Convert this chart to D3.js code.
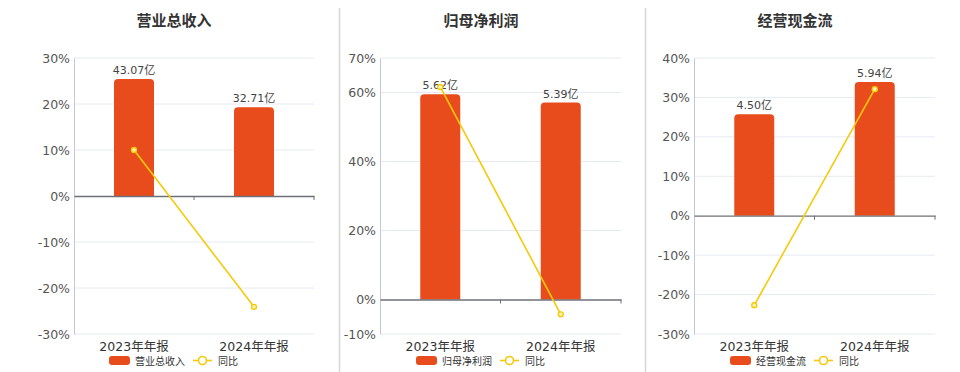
<!DOCTYPE html>
<html lang="zh">
<head>
<meta charset="UTF-8">
<title>营业总收入 / 归母净利润 / 经营现金流</title>
<script src="https://d3js.org/d3.v7.min.js"></script>
<style>
  body { margin: 0; background: #fff; }
  svg { display: block; font-family: "DejaVu Sans", "Noto Sans CJK SC", sans-serif; }
</style>
</head>
<body>
<svg width="960" height="372"></svg>
<script>
// data
var categories = ["2023年年报", "2024年年报"];
var titles = ["营业总收入", "归母净利润", "经营现金流"];
var revenue = [43.07, 32.71];        // 亿
var netProfit = [5.62, 5.39];        // 亿
var cashFlow = [4.50, 5.94];         // 亿
var revenueYoy = [10.0, -24.1];      // %
var netProfitYoy = [61.6, -4.3];     // %
var cashFlowYoy = [-22.7, 32.1];     // %
var revenueTicks = [-30, -20, -10, 0, 10, 20, 30];
var netProfitTicks = [-10, 0, 20, 40, 60, 70];
var cashFlowTicks = [-30, -20, -10, 0, 10, 20, 30, 40];
// hidden right axis maximum for the bars (estimated)
var barAxisMax = [50.8, 6.61, 7];

var barColor = "#e84c1d", lineColor = "#f5ca0c";
var svg = d3.select("svg");

var panels = [
    {title: titles[0], bars: revenue, yoy: revenueYoy, ticks: revenueTicks, left: 74, right: 314, cx: 174},
    {title: titles[1], bars: netProfit, yoy: netProfitYoy, ticks: netProfitTicks, left: 380, right: 621, cx: 481},
    {title: titles[2], bars: cashFlow, yoy: cashFlowYoy, ticks: cashFlowTicks, left: 694, right: 935, cx: 795}
];
var plotTop = 58, plotBottom = 334;

// dividers
[339.5, 645.5].forEach(function(x) {
    svg.append("line").attr("x1", x).attr("x2", x).attr("y1", 8).attr("y2", 372)
        .attr("stroke", "#d6d6d6").attr("stroke-width", 1.5);
});

panels.forEach(function(p, pi) {
    var g = svg.append("g");
    var x = d3.scaleBand().domain(categories).range([p.left, p.right]);
    var y = d3.scaleLinear().domain(d3.extent(p.ticks)).range([plotBottom, plotTop]);
    var yBar = d3.scaleLinear().domain([0, barAxisMax[pi]]).range([y(0), plotTop]);

    g.append("text").attr("x", p.cx).attr("y", 26).attr("text-anchor", "middle")
        .attr("font-size", 15).attr("font-weight", "bold").attr("fill", "#333")
        .attr("font-family", "'Noto Sans CJK SC', sans-serif")
        .text(p.title);

    // grid
    g.selectAll(".grid").data(p.ticks.filter(function(t) { return t !== 0; }))
        .enter().append("line")
        .attr("x1", p.left).attr("x2", p.right)
        .attr("y1", function(d) { return y(d); }).attr("y2", function(d) { return y(d); })
        .attr("stroke", "#e6eaf3").attr("stroke-width", 1);

    // y axis
    var yAxis = g.append("g").attr("transform", "translate(" + p.left + ",0)")
        .call(d3.axisLeft(y).tickValues(p.ticks).tickSize(0).tickPadding(4)
            .tickFormat(function(d) { return d + "%"; }));
    yAxis.select(".domain").attr("stroke", "#c4c8d0");
    yAxis.selectAll("text").attr("font-size", 12.5).attr("fill", "#555")
        .attr("font-family", "'DejaVu Sans', sans-serif");

    // bars
    g.selectAll(".bar").data(p.bars).enter().append("path")
        .attr("fill", barColor)
        .attr("d", function(d, i) {
            var w = 40, x0 = x(categories[i]) + x.bandwidth() / 2 - w / 2;
            var y0 = y(0), y1 = yBar(d), r = 4;
            return "M" + x0 + "," + y0 + "V" + (y1 + r) + "Q" + x0 + "," + y1 + " " + (x0 + r) + "," + y1 +
                "H" + (x0 + w - r) + "Q" + (x0 + w) + "," + y1 + " " + (x0 + w) + "," + (y1 + r) + "V" + y0 + "Z";
        });

    g.selectAll(".lbl").data(p.bars).enter().append("text")
        .attr("x", function(d, i) { return x(categories[i]) + x.bandwidth() / 2; })
        .attr("y", function(d) { return yBar(d) - 5; })
        .attr("text-anchor", "middle").attr("font-size", 11).attr("fill", "#444")
        .text(function(d) { return d.toFixed(2) + "亿"; });

    // zero line + x axis
    var xAxis = g.append("g").attr("transform", "translate(0," + y(0) + ")")
        .call(d3.axisBottom(x).tickSize(0).tickFormat(""));
    xAxis.select(".domain").attr("stroke", "#6e7079").attr("stroke-width", 1.3);
    [x(categories[1]), p.right].forEach(function(tx) {
        g.append("line").attr("x1", tx).attr("x2", tx).attr("y1", y(0)).attr("y2", y(0) + 4)
            .attr("stroke", "#6e7079");
    });

    g.selectAll(".cat").data(categories).enter().append("text")
        .attr("x", function(d) { return x(d) + x.bandwidth() / 2; })
        .attr("y", 351).attr("text-anchor", "middle").attr("font-size", 12.5).attr("fill", "#333")
        .text(function(d) { return d; });

    // yoy line
    var line = d3.line()
        .x(function(d, i) { return x(categories[i]) + x.bandwidth() / 2; })
        .y(function(d) { return y(d); });
    g.append("path").datum(p.yoy).attr("d", line).attr("fill", "none")
        .attr("stroke", lineColor).attr("stroke-width", 1.6);
    g.selectAll(".pt").data(p.yoy).enter().append("circle")
        .attr("cx", function(d, i) { return x(categories[i]) + x.bandwidth() / 2; })
        .attr("cy", function(d) { return y(d); })
        .attr("r", 2.5).attr("fill", "#fff3b0").attr("stroke", lineColor).attr("stroke-width", 1.4);

    // legend
    var lg = g.append("g").attr("transform", "translate(" + p.cx + ",360.5)");
    lg.append("rect").attr("x", -65).attr("y", -4.5).attr("width", 21).attr("height", 9).attr("rx", 3)
        .attr("fill", barColor);
    lg.append("text").attr("x", -39).attr("y", 4).attr("font-size", 10).attr("fill", "#333")
        .attr("font-family", "'Noto Sans CJK SC', sans-serif").text(p.title);
    lg.append("line").attr("x1", 19).attr("x2", 38).attr("y1", 0).attr("y2", 0)
        .attr("stroke", lineColor).attr("stroke-width", 1.6);
    lg.append("circle").attr("cx", 28.5).attr("cy", 0).attr("r", 4).attr("fill", "#fff")
        .attr("stroke", lineColor).attr("stroke-width", 1.6);
    lg.append("text").attr("x", 44).attr("y", 4).attr("font-size", 10).attr("fill", "#333")
        .attr("font-family", "'Noto Sans CJK SC', sans-serif").text("同比");
});
</script>
</body>
</html>
